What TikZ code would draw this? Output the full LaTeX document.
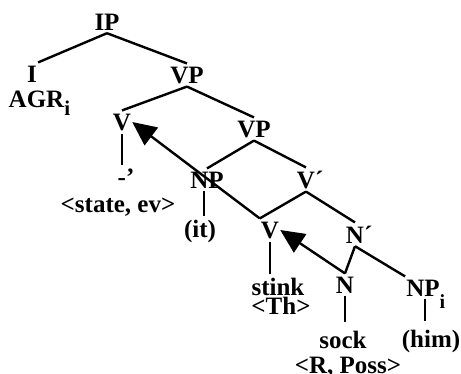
\documentclass[tikz,border=0pt]{standalone}
\usepackage{fontspec}
\setmainfont{Liberation Serif}
\usetikzlibrary{arrows.meta}
\begin{document}
\begin{tikzpicture}[x=1pt,y=-1pt,
  lab/.style={anchor=base, inner xsep=1pt, inner ysep=3pt, font=\fontsize{25}{25}\selectfont\bfseries},
  edge/.style={line width=2.4pt},
  mov/.style={line width=2.4pt, -{Triangle[length=24pt,width=22pt]}}]
\useasboundingbox (0,0) rectangle (461,373);
\node[lab] (IP) at (107,30) {IP};
\node[lab] (I) at (32,82) {I};
\node[lab] (AGR) at (36.5,107) {AGR\rlap{\smash{\raisebox{-8pt}{\fontsize{21}{21}\selectfont i}}}};
\node[lab] (VP1) at (187,83) {VP};
\node[lab] (V1) at (122,130) {V};
\node[lab] (tr) at (126,185) {-’};
\node[lab] (se) at (118,212) {<state, ev>};
\node[lab] (VP2) at (254,137) {VP};
\node[lab] (NP) at (207,188) {NP};
\node[lab] (it) at (200,237) {(it)};
\node[lab] (Vb) at (306,188) {V\rlap{´}};
\node[lab] (Vs) at (270,238) {V};
\node[lab] (stink) at (278,295) {stink};
\node[lab] (Th) at (281,314) {<Th>};
\node[lab] (Nb) at (355,243) {N\rlap{´}};
\node[lab] (N) at (345,293) {N};
\node[lab] (NPi) at (423,296) {NP\rlap{\smash{\raisebox{-12pt}{\fontsize{20}{20}\selectfont i}}}};
\node[lab] (sock) at (343,348) {sock};
\node[lab] (RP) at (348,373) {<R, Poss>};
\node[lab] (him) at (431,347) {(him)};
\draw[edge] (IP.south) -- (I.north east);
\draw[edge] (IP.south) -- (VP1.north);
\draw[edge] (VP1.south) -- (V1.north);
\draw[edge] (VP1.south) -- (VP2.north);
\draw[edge] (VP2.south) -- (NP.north);
\draw[edge] (VP2.south) -- (Vb.north);
\draw[edge] (Vb.south) -- (Vs.north west);
\draw[edge] (Vb.south) -- (Nb.north);
\draw[edge] (Nb.south) -- (N.north);
\draw[edge] (Nb.south) -- (NPi.north west);
\draw[edge] (V1.south) -- (V1.south |- tr.north);
\draw[edge] ([xshift=-3pt]NP.south) -- ([xshift=-3pt]NP.south |- it.north);
\draw[edge] (Vs.south) -- (Vs.south |- stink.north);
\draw[edge,shorten >=5pt] (N.south) -- (N.south |- sock.north);
\draw[edge,shorten >=5pt] ([xshift=2pt]NPi.south) -- ([xshift=2pt]NPi.south |- him.north);
\draw[mov] (Vs.north west) -- (V1.east);
\draw[mov] (N.north) -- (Vs.east);
\end{tikzpicture}
\end{document}
